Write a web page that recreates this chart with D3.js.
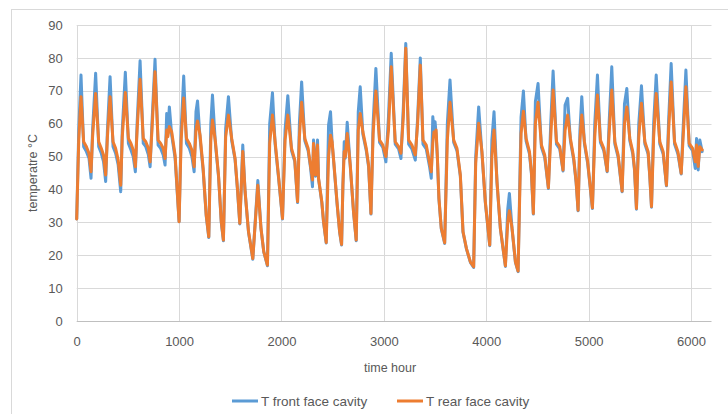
<!DOCTYPE html>
<html>
<head>
<meta charset="utf-8">
<script src="https://cdn.jsdelivr.net/npm/d3@7"></script>
<style>
  body { margin: 0; background: #fff; }
  svg { display: block; font-family: "Liberation Sans", "DejaVu Sans", sans-serif; }
  .tick text { fill: #595959; font-size: 13px; }
</style>
</head>
<body>
<div id="chart"></div>
<script>
// vertices (hours, °C)
const hours = [
  0, 20, 42, 68, 95, 120, 140,
  155, 185, 215, 240, 262, 283,
  300, 326, 355, 380, 405, 430,
  445, 475, 505, 530, 552, 573,
  590, 619, 650, 675, 700, 717,
  735, 765, 795, 820, 845, 863,
  879, 890, 905, 928, 961, 1000,
  1020, 1045, 1072, 1100, 1125, 1147,
  1165, 1180, 1205, 1235, 1265, 1290,
  1310, 1326, 1355, 1385, 1412, 1433,
  1455, 1482, 1514, 1547, 1570, 1593,
  1622, 1645, 1678, 1720, 1769, 1800, 1827, 1863,
  1885, 1912, 1938, 1970, 2010,
  2035, 2062, 2098, 2130, 2157,
  2175, 2197, 2228, 2260, 2283, 2303,
  2313, 2333, 2352, 2362, 2394, 2411, 2437,
  2460, 2479, 2495, 2511, 2542, 2568, 2587,
  2600, 2613, 2623, 2642, 2672, 2704, 2730,
  2750, 2769, 2795, 2828, 2851, 2874,
  2895, 2922, 2958, 2990, 3020,
  3045, 3072, 3111, 3144, 3167,
  3190, 3214, 3242, 3274, 3307,
  3330, 3356, 3382, 3414, 3447, 3463,
  3478, 3490, 3500, 3510, 3522, 3538, 3561, 3594,
  3620, 3646, 3682, 3714, 3747, 3773, 3806, 3845, 3877,
  3897, 3926, 3958, 3991, 4034,
  4055, 4076, 4105, 4138, 4187,
  4210, 4226, 4252, 4285, 4311,
  4340, 4363, 4389, 4422, 4441, 4460,
  4480, 4506, 4539, 4571, 4607,
  4630, 4653, 4686, 4718, 4750,
  4770, 4795, 4822, 4855, 4878, 4897,
  4915, 4933, 4959, 4991, 5037,
  5060, 5086, 5115, 5148, 5181,
  5200, 5226, 5256, 5288, 5327,
  5350, 5373, 5402, 5431, 5448, 5467,
  5490, 5516, 5549, 5581, 5597, 5614,
  5635, 5660, 5695, 5728, 5760,
  5780, 5806, 5839, 5872, 5904,
  5925, 5950, 5982, 6015, 6041,
  6054, 6070, 6086, 6109
];

const frontT = [
  31, 58, 74.8, 53, 51.5, 49.5, 43.4,
  58, 75.3, 53, 51, 48.5, 42.4,
  58, 74.3, 53, 51, 47.5, 39.3,
  58, 75.6, 54, 52, 50, 45.4,
  60, 79.1, 54, 53, 50.5, 46.9,
  60, 79.6, 53.5, 52.5, 50.5, 47.4,
  63.1, 57, 65.1, 56.5, 49.5, 30.2,
  58, 74.5, 54, 52.5, 50, 45.4,
  63.6, 66.9, 55.5, 45.8, 32, 25.4,
  60, 68.7, 53.8, 44, 30, 24.4,
  58.6, 68.2, 54.8, 49, 40, 29.5,
  53.5, 39, 27, 18.8, 42.7, 28, 21, 16.8,
  60, 69.4, 53.8, 44, 31,
  58, 68.5, 51.8, 48.5, 36,
  60, 72.7, 54.8, 51.8, 46.8, 40.8,
  55, 44, 55, 43.2, 36, 30, 23.7,
  59.6, 63.6, 54, 48, 36, 27, 23.1,
  41.3, 54.5, 49.5, 60.4, 47, 33, 24.4,
  63.6, 71.2, 56.8, 51.8, 46.8, 32.5,
  60, 76.8, 54.3, 52.8, 48.4,
  62, 81.4, 53.8, 52.3, 49.4,
  65, 84.4, 53.8, 52.3, 48.9,
  62, 80, 53.8, 52.3, 46.8, 43.4,
  62.1, 58, 60.6, 57, 50, 37, 28, 23.6,
  60, 73.3, 54.3, 51.8, 44, 27, 22, 17.8, 16.3,
  50, 65.1, 51, 36, 22.9,
  55, 63.6, 42, 28, 16.6,
  34, 38.8, 28, 17.8, 15,
  62, 69.9, 54.8, 50.8, 44.8, 32.5,
  66.7, 72.2, 52.8, 49.8, 40.3,
  60, 76, 53.8, 52.3, 45.6,
  65.7, 67.7, 54.8, 48.8, 42, 33.5,
  58, 68.2, 53.8, 47.8, 34.2,
  60, 74.8, 54.3, 51.8, 45.4,
  60, 77.3, 53.8, 49.8, 39.3,
  66, 70.7, 54.8, 50.8, 45.8, 34,
  60, 71.5, 53.8, 50.8, 44, 34.6,
  60, 74.8, 53.8, 50.8, 41.1,
  60, 78.3, 53.8, 50.8, 44.7,
  60, 76.3, 53.3, 51.8, 46.4,
  55.5, 45.9, 55, 51.5
];

const rearT = [
  31, 55, 68.2, 54.5, 53, 51, 45.4,
  56, 69.2, 54.5, 52.5, 50.5, 44.4,
  56, 68.2, 54.5, 52.5, 49, 41.3,
  56, 69.5, 55.5, 54, 52, 46.9,
  58, 73.5, 55.5, 54.5, 52.5, 48.4,
  58, 75.8, 55, 54, 52.5, 49.4,
  58.1, 56, 59.1, 57.5, 50.5, 30.2,
  55, 67.8, 55.5, 54, 52, 46.9,
  58, 60.8, 56.5, 46.4, 32.2, 25.6,
  55, 61.1, 54.5, 44.4, 30.2, 24.6,
  56, 62.6, 55.5, 49.4, 40.3, 29.7,
  51.5, 39.3, 27.2, 19, 41.3, 28.2, 21.1, 17,
  54, 62.6, 54.5, 44.4, 31.2,
  55, 62.6, 52.5, 49, 36.3,
  56, 66.5, 55.5, 52.5, 47.4, 42.9,
  54, 44.4, 53.5, 43.4, 36.3, 30.2, 23.9,
  50, 56.5, 54.5, 48.4, 36.3, 27.2, 23.3,
  41.3, 51.5, 50, 57, 47.4, 33.2, 24.6,
  58, 63.1, 57.5, 52.5, 47.4, 32.7,
  57, 69.9, 55, 53.5, 50,
  58, 77.3, 54.5, 53, 51,
  62, 82.9, 55, 53.5, 50.5,
  60, 77.8, 55, 53.5, 48, 45.4,
  54, 57.5, 56, 58.1, 50.5, 37.3, 28.2, 23.8,
  55, 66.5, 55, 52.5, 44.4, 27.2, 22.1, 18, 16.5,
  48, 60.1, 51.5, 36.3, 23.1,
  50, 58.1, 42.4, 28.2, 16.8,
  30, 33.5, 28.2, 18, 15.2,
  57, 63.8, 55.5, 51.5, 45.4, 32.7,
  60, 66.5, 53.5, 50.5, 40.5,
  56, 70.2, 54.5, 53, 45.9,
  58, 62.6, 55.5, 49.4, 42.4, 33.7,
  55, 62.6, 54.5, 48.4, 34.4,
  56, 68.7, 55, 52.5, 45.6,
  57, 70.2, 54.5, 50.5, 39.5,
  60, 65.1, 55.5, 51.5, 46.4, 34.2,
  56, 66.2, 54.5, 51.5, 44.4, 34.8,
  56, 69.2, 54.5, 51.5, 41.3,
  57, 72.7, 54.5, 51.5, 44.9,
  57, 71.2, 54, 52.5, 48.4,
  53.5, 47, 53, 52
];

const xTicks = [0, 1000, 2000, 3000, 4000, 5000, 6000];
const yTicks = [0, 10, 20, 30, 40, 50, 60, 70, 80, 90];

const seriesNames = ["T front face cavity", "T rear face cavity"];
const seriesColors = ["#5B9BD5", "#ED7D31"];

const width = 728, height = 414;
const plotLeft = 76.7, plotRight = 711.5, plotTop = 25, plotBottom = 321;

const svg = d3.select("#chart")
  .append("svg")
  .attr("width", width)
  .attr("height", height);

// chart area border
svg.append("rect")
  .attr("x", 11.5).attr("y", 9.5)
  .attr("width", 730).attr("height", 420)
  .attr("fill", "#fff")
  .attr("stroke", "#d9d9d9");

const x = d3.scaleLinear().domain([0, 6200]).range([plotLeft, plotRight]);
const y = d3.scaleLinear().domain([0, 90]).range([plotBottom, plotTop]);

// horizontal grid
svg.append("g")
  .selectAll("line")
  .data(yTicks.filter(d => d > 0))
  .enter().append("line")
  .attr("x1", plotLeft).attr("x2", plotRight)
  .attr("y1", d => Math.round(y(d)) + 0.5)
  .attr("y2", d => Math.round(y(d)) + 0.5)
  .attr("stroke", "#d9d9d9");

// vertical grid
svg.append("g")
  .selectAll("line")
  .data(xTicks)
  .enter().append("line")
  .attr("x1", d => Math.round(x(d)) + 0.5)
  .attr("x2", d => Math.round(x(d)) + 0.5)
  .attr("y1", plotTop).attr("y2", plotBottom)
  .attr("stroke", "#d9d9d9");

// x axis
const xAxis = svg.append("g")
  .attr("transform", `translate(0, ${Math.round(plotBottom) + 0.5})`)
  .call(d3.axisBottom(x).tickValues(xTicks).tickSize(0).tickPadding(15).tickFormat(d3.format("d")));
xAxis.select(".domain").attr("stroke", "#bfbfbf").attr("d", `M${plotLeft},0H${plotRight}`);

// y axis
const yAxis = svg.append("g")
  .attr("transform", `translate(${plotLeft - 14}, 0)`)
  .call(d3.axisLeft(y).tickValues(yTicks).tickSize(0).tickPadding(0));
yAxis.select(".domain").remove();

// lines
const line = d3.line()
  .x((d, i) => x(hours[i]))
  .y(d => y(d));

[frontT, rearT].forEach((vals, k) => {
  svg.append("path")
    .datum(vals)
    .attr("fill", "none")
    .attr("stroke", seriesColors[k])
    .attr("stroke-width", 3)
    .attr("stroke-linejoin", "round")
    .attr("stroke-linecap", "round")
    .attr("d", line);
});

// axis titles
svg.append("text")
  .attr("x", (plotLeft + plotRight) / 2 - 4)
  .attr("y", 372)
  .attr("text-anchor", "middle")
  .attr("fill", "#595959")
  .attr("font-size", 12.5)
  .text("time hour");

svg.append("text")
  .attr("transform", `translate(37, ${(plotTop + plotBottom) / 2}) rotate(-90)`)
  .attr("text-anchor", "middle")
  .attr("fill", "#595959")
  .attr("font-size", 12.5)
  .text("temperatre °C");

// legend
const legendX = [232, 397];
seriesNames.forEach((name, k) => {
  const g = svg.append("g").attr("transform", `translate(${legendX[k]}, 401)`);
  g.append("line")
    .attr("x1", 0).attr("x2", 26)
    .attr("stroke", seriesColors[k])
    .attr("stroke-width", 3);
  g.append("text")
    .attr("x", 29).attr("y", 5)
    .attr("fill", "#595959")
    .attr("font-size", 13.5)
    .text(name);
});
</script>
</body>
</html>
